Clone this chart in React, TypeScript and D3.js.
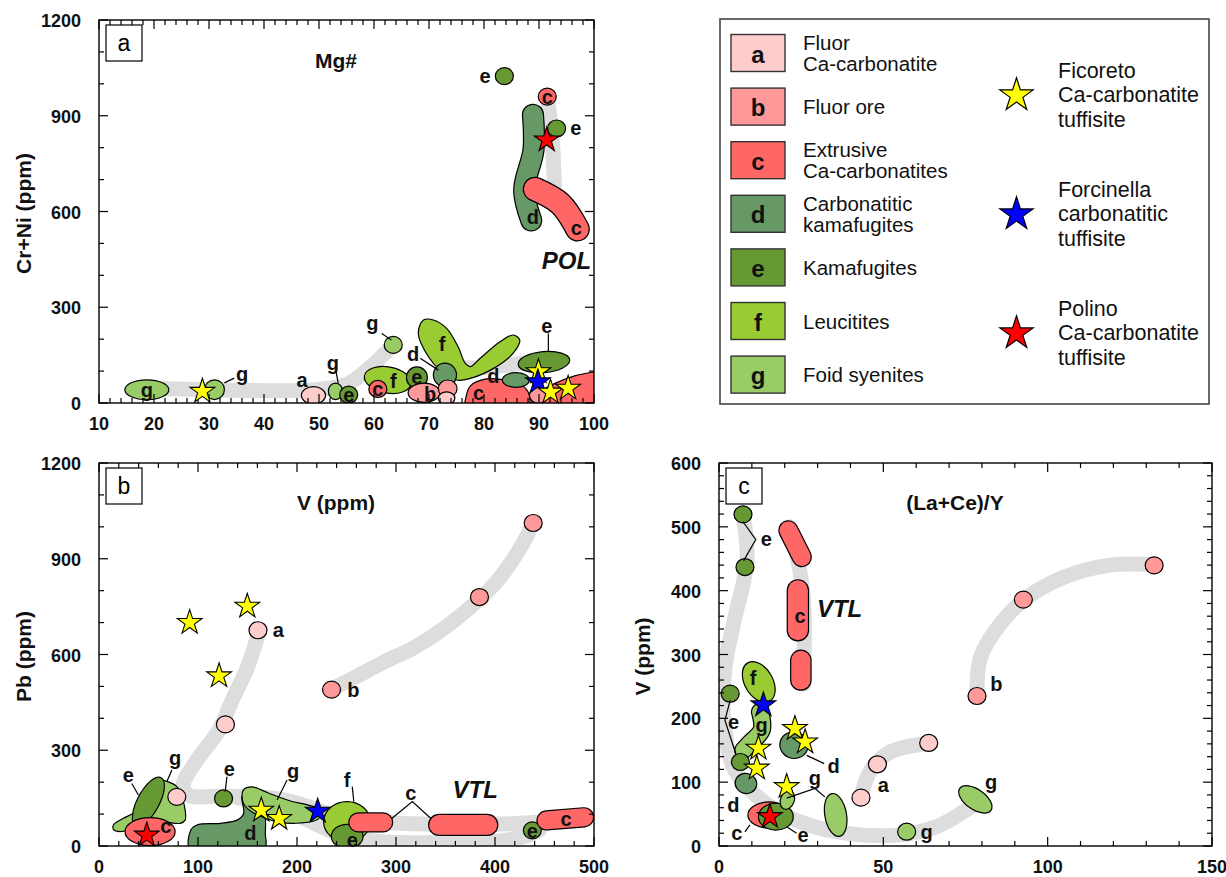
import React, { useEffect, useRef } from 'react'
import * as d3 from 'd3'

type Pt = [number, number]
type Field =
  | ['dot', string, number, number]
  | ['ell', string, number, number, number, number, number]
  | ['poly', string, Pt[]]
  | ['saus', string, Pt[], number]

const groupColors: Record<string, string> = {
  a: '#FFCCCC', b: '#FF9999', c: '#FF6666', d: '#669966',
  e: '#669933', f: '#99CC33', g: '#99CC66'
}
const starColors: Record<string, string> = { Ficoreto: '#FFFF00', Forcinella: '#0000FF', Polino: '#FF0000' }

// legend
const legendKeys = ['a', 'b', 'c', 'd', 'e', 'f', 'g']
const legendNames = [
  ['Fluor', 'Ca-carbonatite'], ['Fluor ore'], ['Extrusive', 'Ca-carbonatites'],
  ['Carbonatitic', 'kamafugites'], ['Kamafugites'], ['Leucitites'], ['Foid syenites']
]
const starKeys = ['Ficoreto', 'Forcinella', 'Polino']
const starNames = [
  ['Ficoreto', 'Ca-carbonatite', 'tuffisite'],
  ['Forcinella', 'carbonatitic', 'tuffisite'],
  ['Polino', 'Ca-carbonatite', 'tuffisite']
]

// ---------- panel a : Mg# vs Cr+Ni
const xTicksA = [10, 20, 30, 40, 50, 60, 70, 80, 90, 100]
const yTicksA = [0, 300, 600, 900, 1200]
const bandsA: Pt[][] = [
  [[18.7, 47], [34.9, 40], [49.4, 42], [55.2, 60], [59.5, 115], [63.5, 182]],
  [[72.5, 115], [78, 110], [84, 118], [88, 128]],
  [[91.5, 960], [92.4, 824], [92.8, 678]]
]
const fieldsA: Field[] = [
  ['ell', 'g', 18.7, 41.7, 4.0, 31, 0],
  ['ell', 'g', 31.0, 41.7, 1.8, 31, 0],
  ['ell', 'a', 49.0, 24, 2.2, 27, 0],
  ['ell', 'g', 53.0, 36.5, 1.3, 26, 0],
  ['dot', 'e', 55.4, 26],
  ['ell', 'f', 62.5, 72, 4.3, 41, 10],
  ['dot', 'c', 60.7, 44],
  ['dot', 'g', 63.5, 182],
  ['poly', 'f', [[69.0, 260], [68.05, 218], [69.9, 145], [72.0, 103], [75.0, 72], [77.5, 77], [82.3, 114],
    [85.3, 156], [86.5, 197], [85.3, 213], [82.9, 192], [79.3, 140], [77.5, 114], [76.6, 124],
    [75.3, 176], [73.2, 234], [70.8, 260]]],
  ['ell', 'd', 72.9, 88, 2.1, 37, 0],
  ['ell', 'e', 67.8, 80, 1.9, 33, 0],
  ['ell', 'b', 69.1, 32, 2.9, 30, 0],
  ['ell', 'b', 73.4, 45, 1.7, 27, 0],
  ['ell', 'a', 73.2, 15, 1.5, 20, 0],
  ['poly', 'c', [[76.7, 16], [77.5, 53], [80.2, 75], [83.8, 72], [86.5, 60], [88, 35], [88.4, 0], [88.4, -22], [76.7, -22]]],
  ['poly', 'c', [[88.7, 3], [90.2, 34], [93.1, 63], [96.5, 85], [99.8, 97], [101, 100], [101, -22], [88.7, -22]]],
  ['ell', 'd', 85.8, 72, 2.45, 23, 0],
  ['ell', 'e', 90.9, 128, 4.7, 33, -5],
  ['dot', 'b', 89.9, 25],
  ['saus', 'd', [[88.9, 903], [89.0, 793], [87.3, 667], [88.6, 572]], 31],
  ['saus', 'c', [[89.3, 670], [93.9, 624], [97.0, 545]], 35],
  ['dot', 'c', 91.5, 960],
  ['dot', 'e', 93.2, 860],
  ['dot', 'e', 83.7, 1024]
]
const starsA: [string, number, number][] = [
  ['Ficoreto', 28.8, 36.5], ['Ficoreto', 89.9, 98], ['Forcinella', 89.8, 66],
  ['Ficoreto', 92.1, 34], ['Ficoreto', 95.3, 46], ['Polino', 91.4, 824]
]
const labelsA: [string, number, number][] = [
  ['g', 18.7, 41], ['g', 36.0, 92], ['a', 46.9, 73], ['g', 52.5, 125], ['e', 55.4, 25], ['c', 60.7, 43],
  ['f', 63.5, 70], ['g', 59.7, 250], ['e', 67.8, 80], ['d', 67.1, 155], ['f', 72.4, 186], ['b', 70.2, 27],
  ['c', 79.0, 30], ['d', 81.7, 84], ['e', 91.4, 240], ['e', 80.2, 1024], ['c', 91.5, 958], ['e', 96.7, 861],
  ['d', 88.9, 584], ['c', 96.8, 549]
]
const leadersA: Pt[][] = [
  [[32.8, 63], [34.6, 78]], [[53.1, 98], [53.5, 62]], [[61.4, 218], [63.2, 197]],
  [[68.4, 140], [71.7, 103]], [[91.7, 218], [91.7, 161]]
]
const tagsA: [string, number, number][] = [['POL', 95.0, 448]]

// ---------- panel b : V vs Pb
const xTicksB = [0, 100, 200, 300, 400, 500]
const yTicksB = [0, 300, 600, 900, 1200]
const bandsB: Pt[][] = [
  [[236, 493], [259, 529], [290, 580], [319, 623], [359, 707], [400, 822], [428, 947], [438, 1010]],
  [[161, 665], [150, 560], [135, 460], [121, 363], [97, 260], [85, 190], [90, 160], [130, 156], [180, 148], [210, 125], [224, 110]],
  [[140, 152], [180, 125], [215, 75], [245, 35], [280, 15], [340, 10], [400, 14], [430, 30], [445, 50]],
  [[224, 108], [260, 85], [300, 72], [360, 68], [420, 70], [470, 82]]
]
const fieldsB: Field[] = [
  ['poly', 'g', [[14.5, 66], [24.6, 87], [36.4, 107], [43.2, 154], [49.9, 191], [60, 207], [70.1, 201], [78.6, 186],
    [83.7, 154], [87, 113], [87, 81], [82, 71], [61.7, 76], [48.3, 66], [34.7, 55], [21.3, 45], [14.5, 52]]],
  ['ell', 'e', 49.9, 139, 27.3, 34.5, -62],
  ['dot', 'a', 78.6, 154],
  ['ell', 'c', 51.6, 45, 25.3, 44, 0],
  ['poly', 'd', [[92.1, -10], [92.8, 50], [98.9, 66], [122.5, 71], [139.4, 81], [146.1, 102], [144.4, 154], [149.5, 178],
    [159.6, 181], [164.7, 144], [168, 92], [168, 40], [167, -10]]],
  ['poly', 'g', [[145.7, 175], [154.9, 185], [171.1, 166], [193.3, 141], [211.5, 128], [223.7, 113], [221.7, 85],
    [203.4, 72], [181.2, 75], [165, 91], [152.8, 110], [145.7, 135]]],
  ['dot', 'e', 125.8, 149],
  ['ell', 'f', 250.5, 76, 23.6, 63, 0],
  ['ell', 'e', 250.7, 30, 16, 38, 0],
  ['saus', 'c', [[262, 74], [287, 74]], 28],
  ['saus', 'c', [[343.6, 66], [392.2, 66]], 31],
  ['dot', 'e', 437.7, 49],
  ['saus', 'c', [[452, 80], [490, 90]], 28],
  ['dot', 'a', 160.6, 676], ['dot', 'a', 127.7, 381],
  ['dot', 'b', 234.9, 490], ['dot', 'b', 384.3, 780], ['dot', 'b', 438.6, 1012]
]
const starsB: [string, number, number][] = [
  ['Ficoreto', 91.6, 700], ['Ficoreto', 149.8, 751], ['Ficoreto', 121.3, 533], ['Ficoreto', 163.9, 112],
  ['Ficoreto', 182, 86], ['Forcinella', 220.9, 109], ['Polino', 48.3, 34]
]
const labelsB: [string, number, number][] = [
  ['e', 29.7, 222], ['g', 76.9, 275], ['c', 67.5, 64], ['a', 181, 676], ['b', 257, 488], ['e', 131.6, 240],
  ['d', 152.8, 40], ['g', 196, 236], ['f', 250.7, 208], ['e', 255.8, 19], ['c', 315, 165], ['e', 437.7, 48],
  ['c', 471.9, 86]
]
const leadersB: Pt[][] = [
  [[33.1, 196], [39.8, 160]], [[73.6, 238], [68.5, 201]], [[129.2, 217], [127.5, 170]],
  [[190, 207], [179.9, 144]], [[255.8, 186], [257.4, 139]], [[296, 87], [316.5, 139], [335, 87]]
]
const tagsB: [string, number, number][] = [['VTL', 380, 178]]

// ---------- panel c : (La+Ce)/Y vs V
const xTicksC = [0, 50, 100, 150]
const yTicksC = [0, 100, 200, 300, 400, 500, 600]
const bandsC: Pt[][] = [
  [[7.3, 520], [8.5, 447], [4.9, 359], [2.0, 286], [1.4, 202], [4.9, 118], [14.4, 66], [26.1, 35], [40.2, 19],
    [54.4, 17], [66.1, 30], [77.9, 66]],
  [[21.4, 500], [24.4, 437], [25.9, 369], [25.9, 306], [25.9, 254]],
  [[78.5, 236], [79.6, 296], [84.9, 343], [92.6, 385], [104.9, 421], [119, 440], [132, 441]],
  [[43.2, 77], [46.1, 118], [52, 147], [63.8, 161]]
]
const fieldsC: Field[] = [
  ['saus', 'c', [[21.1, 494.5], [25.2, 452.7]], 14],
  ['saus', 'c', [[24.0, 400.5], [24.0, 338]], 15.7],
  ['saus', 'c', [[24.9, 291], [24.9, 260]], 15],
  ['ell', 'f', 12.1, 257, 6.7, 22, 60],
  ['saus', 'g', [[12.5, 210], [13.0, 182], [9.4, 161], [7.4, 150]], 12.5],
  ['dot', 'e', 7.3, 519.6], ['dot', 'e', 7.9, 437], ['dot', 'e', 3.4, 238.6], ['dot', 'e', 6.5, 131.6],
  ['ell', 'd', 8.2, 98, 3.3, 15.7, 15],
  ['ell', 'd', 22.8, 158, 4.3, 20.8, 15],
  ['ell', 'c', 15.2, 48.6, 6.4, 20.4, 0],
  ['ell', 'e', 17.3, 46, 5.3, 21, 0],
  ['ell', 'g', 20.8, 72, 2.1, 15, 20],
  ['ell', 'g', 35.5, 48.6, 3.3, 34, -10],
  ['dot', 'g', 57.1, 22.4],
  ['ell', 'g', 78, 73, 5.8, 15.7, 35],
  ['dot', 'a', 43.2, 75.7], ['dot', 'a', 48.2, 128], ['dot', 'a', 63.8, 161.4],
  ['dot', 'b', 78.5, 235], ['dot', 'b', 92.6, 386], ['dot', 'b', 132.4, 439.7]
]
const starsC: [string, number, number][] = [
  ['Ficoreto', 12.0, 153], ['Ficoreto', 11.5, 122], ['Ficoreto', 23.1, 184], ['Ficoreto', 26.2, 163],
  ['Ficoreto', 20.6, 93], ['Forcinella', 13.5, 221], ['Polino', 15.5, 46]
]
const labelsC: [string, number, number][] = [
  ['e', 14.4, 481], ['c', 24.7, 361], ['f', 10.4, 263], ['g', 13.0, 190], ['e', 4.4, 195], ['d', 4.4, 64],
  ['d', 34.9, 126], ['g', 29.2, 106], ['c', 5.4, 20], ['e', 25.6, 17], ['g', 63.2, 22], ['g', 82.8, 100],
  ['a', 50, 95], ['b', 84.4, 254]
]
const leadersC: Pt[][] = [
  [[7.3, 508], [11.2, 480], [7.5, 447]], [[3.4, 228], [1.8, 197], [5.2, 143]], [[26.7, 142], [32, 129]],
  [[20.6, 75], [29.2, 90], [32.2, 77]], [[7.9, 22], [9.4, 33]], [[20.6, 30], [23.6, 20]]
]
const tagsC: [string, number, number][] = [['VTL', 36.7, 372]]

const FONT = '"Liberation Sans", Arial, Helvetica, sans-serif'

const panels = [
  { id: 'a', xDomain: [10, 100], yDomain: [0, 1200], box: { left: 99, right: 594, top: 20, bottom: 403 },
    xTicks: xTicksA, yTicks: yTicksA, xMinor: 2, yMinor: 100, title: 'Mg#', titlePos: [336, 60],
    yTitle: 'Cr+Ni (ppm)', yTitleX: 23, bands: bandsA, fields: fieldsA, stars: starsA, labels: labelsA,
    leaders: leadersA, tags: tagsA },
  { id: 'b', xDomain: [0, 500], yDomain: [0, 1200], box: { left: 99, right: 594, top: 463, bottom: 846 },
    xTicks: xTicksB, yTicks: yTicksB, xMinor: 20, yMinor: 100, title: 'V (ppm)', titlePos: [336, 502],
    yTitle: 'Pb (ppm)', yTitleX: 23, bands: bandsB, fields: fieldsB, stars: starsB, labels: labelsB,
    leaders: leadersB, tags: tagsB },
  { id: 'c', xDomain: [0, 150], yDomain: [0, 600], box: { left: 719, right: 1212, top: 463, bottom: 846 },
    xTicks: xTicksC, yTicks: yTicksC, xMinor: 10, yMinor: 20, title: '(La+Ce)/Y', titlePos: [955, 502],
    yTitle: 'V (ppm)', yTitleX: 642, bands: bandsC, fields: fieldsC, stars: starsC, labels: labelsC,
    leaders: leadersC, tags: tagsC }
]

const starPath = (R: number) => d3.symbol().type(d3.symbolStar).size((R * R) / 0.8908130915)()

function drawPanel(root: d3.Selection<SVGSVGElement, unknown, null, undefined>, p: any) {
  const { left, right, top, bottom } = p.box
  const x = d3.scaleLinear().domain(p.xDomain).range([left, right])
  const y = d3.scaleLinear().domain(p.yDomain).range([bottom, top])
  const g = root.append('g')
  g.append('clipPath').attr('id', 'clip-' + p.id)
    .append('rect').attr('x', left).attr('y', top).attr('width', right - left).attr('height', bottom - top)
  const plot = g.append('g').attr('clip-path', `url(#clip-${p.id})`)

  const smooth = d3.line<Pt>().x(d => x(d[0])).y(d => y(d[1])).curve(d3.curveCatmullRom.alpha(0.5))
  const closed = d3.line<Pt>().x(d => x(d[0])).y(d => y(d[1])).curve(d3.curveCatmullRomClosed.alpha(0.5))
  const straight = d3.line<Pt>().x(d => x(d[0])).y(d => y(d[1]))

  plot.selectAll('path.band').data(p.bands as Pt[][]).join('path')
    .attr('class', 'band')
    .attr('d', d => smooth(d))
    .attr('fill', 'none').attr('stroke', '#dddddd').attr('stroke-width', 15)
    .attr('stroke-linecap', 'round').attr('stroke-linejoin', 'round')

  ;(p.fields as Field[]).forEach(f => {
    const fill = groupColors[f[1]]
    if (f[0] === 'dot') {
      plot.append('ellipse').attr('cx', x(f[2])).attr('cy', y(f[3])).attr('rx', 9).attr('ry', 8.5)
        .attr('fill', fill).attr('stroke', '#000').attr('stroke-width', 1.2)
    } else if (f[0] === 'ell') {
      const cx = x(f[2]), cy = y(f[3])
      const rx = Math.abs(x(f[2] + f[4]) - cx), ry = Math.abs(y(f[3] + f[5]) - cy)
      plot.append('ellipse').attr('cx', cx).attr('cy', cy).attr('rx', rx).attr('ry', ry)
        .attr('transform', `rotate(${f[6]},${cx},${cy})`)
        .attr('fill', fill).attr('stroke', '#000').attr('stroke-width', 1.2)
    } else if (f[0] === 'poly') {
      plot.append('path').attr('d', closed(f[2]))
        .attr('fill', fill).attr('stroke', '#000').attr('stroke-width', 1.2)
    } else {
      const w = Math.abs(y(0) - y(f[3])) * 2
      const d = smooth(f[2])
      plot.append('path').attr('d', d).attr('fill', 'none').attr('stroke', '#000')
        .attr('stroke-width', w + 2.4).attr('stroke-linecap', 'round').attr('stroke-linejoin', 'round')
      plot.append('path').attr('d', d).attr('fill', 'none').attr('stroke', fill)
        .attr('stroke-width', w).attr('stroke-linecap', 'round').attr('stroke-linejoin', 'round')
    }
  })

  g.selectAll('path.leader').data(p.leaders as Pt[][]).join('path')
    .attr('class', 'leader').attr('d', d => straight(d))
    .attr('fill', 'none').attr('stroke', '#000').attr('stroke-width', 1.2)

  // frame + inward ticks
  g.append('rect').attr('x', left).attr('y', top).attr('width', right - left).attr('height', bottom - top)
    .attr('fill', 'none').attr('stroke', '#000').attr('stroke-width', 1.4)
  const isMajor = (v: number, list: number[]) => list.some(t => Math.abs(t - v) < 1e-6)
  d3.range(p.xDomain[0], p.xDomain[1] + 1e-6, p.xMinor).forEach((v: number) => {
    const len = isMajor(v, p.xTicks) ? 9 : 5
    g.append('line').attr('x1', x(v)).attr('x2', x(v)).attr('y1', bottom).attr('y2', bottom - len)
      .attr('stroke', '#000').attr('stroke-width', 1.2)
    g.append('line').attr('x1', x(v)).attr('x2', x(v)).attr('y1', top).attr('y2', top + len)
      .attr('stroke', '#000').attr('stroke-width', 1.2)
  })
  d3.range(p.yDomain[0], p.yDomain[1] + 1e-6, p.yMinor).forEach((v: number) => {
    const len = isMajor(v, p.yTicks) ? 9 : 5
    g.append('line').attr('x1', left).attr('x2', left + len).attr('y1', y(v)).attr('y2', y(v))
      .attr('stroke', '#000').attr('stroke-width', 1.2)
    g.append('line').attr('x1', right).attr('x2', right - len).attr('y1', y(v)).attr('y2', y(v))
      .attr('stroke', '#000').attr('stroke-width', 1.2)
  })
  const tickText = { 'font-family': FONT, 'font-size': 18, 'font-weight': 'bold', fill: '#111' }
  ;(p.xTicks as number[]).forEach(v => {
    const t = g.append('text').attr('x', x(v)).attr('y', bottom + 21).attr('text-anchor', 'middle')
      .attr('dominant-baseline', 'central').text(v)
    Object.entries(tickText).forEach(([k, val]) => t.attr(k, val as any))
  })
  ;(p.yTicks as number[]).forEach(v => {
    const t = g.append('text').attr('x', left - 18).attr('y', y(v) + 1).attr('text-anchor', 'end')
      .attr('dominant-baseline', 'central').text(v)
    Object.entries(tickText).forEach(([k, val]) => t.attr(k, val as any))
  })

  // panel letter box
  g.append('rect').attr('x', left + 7).attr('y', top + 5).attr('width', 36).attr('height', 36)
    .attr('fill', '#fff').attr('stroke', '#000').attr('stroke-width', 1.2)
  g.append('text').attr('x', left + 25).attr('y', top + 23).attr('text-anchor', 'middle')
    .attr('dominant-baseline', 'central').attr('font-family', FONT).attr('font-size', 23).text(p.id)

  g.append('text').attr('x', p.titlePos[0]).attr('y', p.titlePos[1]).attr('text-anchor', 'middle')
    .attr('dominant-baseline', 'central').attr('font-family', FONT).attr('font-size', 21)
    .attr('font-weight', 'bold').attr('fill', '#111').text(p.title)
  const cy = (top + bottom) / 2 + 2
  g.append('text').attr('transform', `translate(${p.yTitleX},${cy}) rotate(-90)`).attr('text-anchor', 'middle')
    .attr('dominant-baseline', 'central').attr('font-family', FONT).attr('font-size', 21)
    .attr('font-weight', 'bold').attr('fill', '#111').text(p.yTitle)

  g.selectAll('text.lab').data(p.labels as [string, number, number][]).join('text')
    .attr('class', 'lab').attr('x', d => x(d[1])).attr('y', d => y(d[2]))
    .attr('text-anchor', 'middle').attr('dominant-baseline', 'central')
    .attr('font-family', FONT).attr('font-size', 20).attr('font-weight', 'bold').attr('fill', '#111')
    .text(d => d[0])
  g.selectAll('text.tag').data(p.tags as [string, number, number][]).join('text')
    .attr('class', 'tag').attr('x', d => x(d[1])).attr('y', d => y(d[2]))
    .attr('text-anchor', 'middle').attr('dominant-baseline', 'central')
    .attr('font-family', FONT).attr('font-size', 24).attr('font-weight', 'bold').attr('font-style', 'italic')
    .attr('fill', '#111').text(d => d[0])

  g.selectAll('path.star').data(p.stars as [string, number, number][]).join('path')
    .attr('class', 'star').attr('d', starPath(13))
    .attr('transform', d => `translate(${x(d[1])},${y(d[2])})`)
    .attr('fill', d => starColors[d[0]]).attr('stroke', '#000').attr('stroke-width', 1.1)
    .attr('stroke-linejoin', 'miter')
}

function drawLegend(root: d3.Selection<SVGSVGElement, unknown, null, undefined>) {
  const g = root.append('g')
  g.append('rect').attr('x', 720).attr('y', 19).attr('width', 489).attr('height', 385)
    .attr('fill', '#fff').attr('stroke', '#444').attr('stroke-width', 1.6)
  const row = d3.scaleLinear().domain([0, 6]).range([53, 374.6])
  legendKeys.forEach((k, i) => {
    const cy = row(i)
    g.append('rect').attr('x', 731).attr('y', cy - 18.5).attr('width', 54).attr('height', 37)
      .attr('fill', groupColors[k]).attr('stroke', '#333').attr('stroke-width', 1.4)
    g.append('text').attr('x', 758).attr('y', cy + 1).attr('text-anchor', 'middle').attr('dominant-baseline', 'central')
      .attr('font-family', FONT).attr('font-size', 24).attr('font-weight', 'bold').attr('fill', '#111').text(k)
    const lines = legendNames[i]
    lines.forEach((s, j) => {
      g.append('text').attr('x', 803).attr('y', cy + (j - (lines.length - 1) / 2) * 21)
        .attr('dominant-baseline', 'central').attr('font-family', FONT).attr('font-size', 20.5)
        .attr('fill', '#111').text(s)
    })
  })
  const srow = d3.scaleLinear().domain([0, 2]).range([95.3, 333.3])
  starKeys.forEach((k, i) => {
    const cy = srow(i)
    g.append('path').attr('d', starPath(17.5)).attr('transform', `translate(1016.5,${cy})`)
      .attr('fill', starColors[k]).attr('stroke', '#000').attr('stroke-width', 1.2)
    starNames[i].forEach((s, j) => {
      g.append('text').attr('x', 1058).attr('y', cy + (j - 1) * 24.3).attr('dominant-baseline', 'central')
        .attr('font-family', FONT).attr('font-size', 21.5).attr('fill', '#111').text(s)
    })
  })
}

export default function App() {
  const ref = useRef<SVGSVGElement>(null)
  useEffect(() => {
    const svg = d3.select(ref.current as SVGSVGElement)
    svg.selectAll('*').remove()
    svg.append('rect').attr('width', 1226).attr('height', 877).attr('fill', '#fff')
    drawLegend(svg)
    panels.forEach(p => drawPanel(svg, p))
  }, [])
  return (
    <svg ref={ref} width={1226} height={877} style={{ position: 'absolute', left: 0, top: 0 }} />
  )
}
